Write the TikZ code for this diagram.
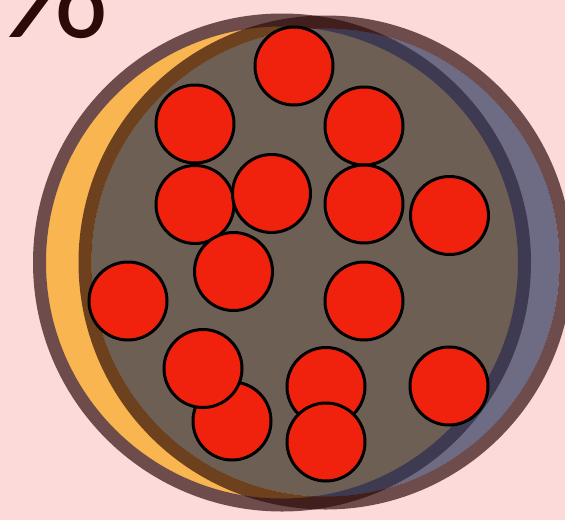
\documentclass[tikz,border=0pt]{standalone}
\usepackage{fontspec}
\newfontfamily\pctfont{Lato}
\definecolor{bgpink}{HTML}{FCDADA}
\definecolor{orangefill}{HTML}{F9B54F}
\definecolor{navyfill}{HTML}{233156}
\definecolor{darkmaroon}{HTML}{2B0A08}
\definecolor{ballred}{HTML}{F0220E}
\tikzset{
  bigring/.style={draw=darkmaroon, draw opacity=0.68, line width=13pt},
  ball/.style={circle, draw=black, line width=3pt, fill=ballred, minimum size=78pt, inner sep=0pt}
}
\begin{document}
\begin{tikzpicture}[x=1pt,y=-1pt]
\useasboundingbox (0,0) rectangle (565,520);
\fill[bgpink] (0,0) rectangle (565,520);
% percent sign (cut at top)
\node[anchor=base west, inner sep=0pt, text=darkmaroon, font=\pctfont\fontsize{142}{142}\selectfont] (pct) at (-3.5,37.5) {\%};
% left circle
\coordinate (cl) at (282,262.5);
\fill[orangefill] (cl) circle[radius=236pt];
\draw[bigring] (cl) circle[radius=242.5pt];
% right circle
\coordinate (cr) at (325.5,262.5);
\fill[navyfill, fill opacity=0.65] (cr) circle[radius=234pt];
\draw[bigring] (cr) circle[radius=240.5pt];
% balls
\node[ball] (b1) at (294,66) {};
\node[ball] (b2) at (195,124) {};
\node[ball] (b3) at (364,126) {};
\node[ball] (b4) at (195,204.5) {};
\node[ball] (b5) at (271.5,193.5) {};
\node[ball] (b6) at (364,204) {};
\node[ball] (b7) at (449.5,215.5) {};
\node[ball] (b8) at (233.5,271.5) {};
\node[ball] (b9) at (128,301) {};
\node[ball] (b10) at (364,301) {};
\node[ball] (b11) at (232,421) {};
\node[ball] (b12) at (203,368.5) {};
\node[ball] (b13) at (326,386.5) {};
\node[ball] (b14) at (449,386) {};
\node[ball] (b15) at (326,442) {};
\end{tikzpicture}
\end{document}
